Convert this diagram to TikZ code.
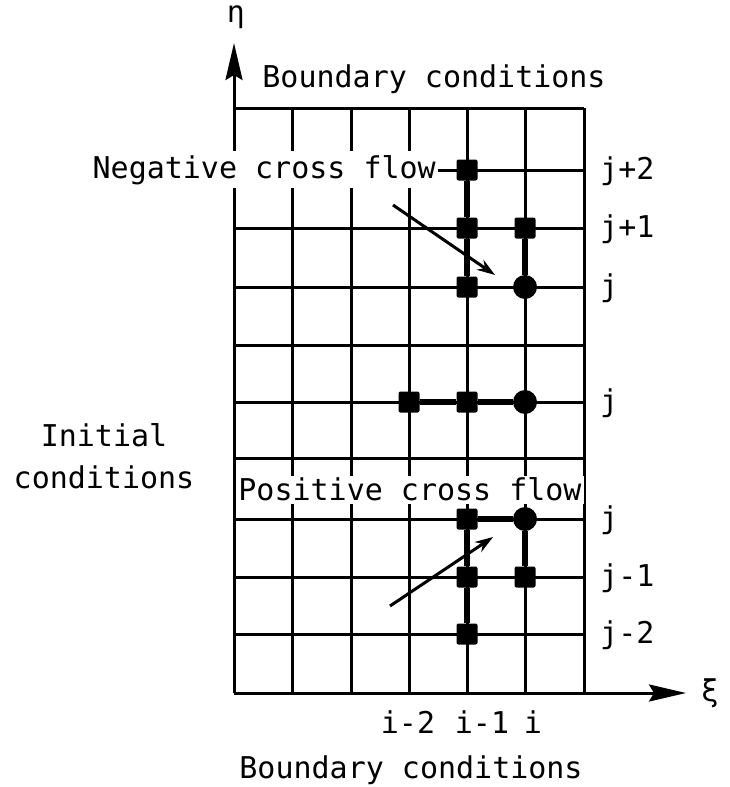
\documentclass[tikz,border=0pt]{standalone}
\usepackage{fontspec}
\newfontfamily\plotfont{DejaVu Sans Mono}
\usepackage{tikz}
\usetikzlibrary{arrows.meta,positioning}
\tikzset{
  gridln/.style={line width=3pt},
  link/.style={line width=6pt},
  sqpt/.style={rectangle, fill=black, minimum size=21pt, inner sep=0pt, rounded corners=2pt},
  rdpt/.style={circle, fill=black, minimum size=24pt, inner sep=0pt},
  lbl/.style={font={\plotfont\fontsize{30pt}{42pt}\selectfont}, inner sep=0pt},
  tag/.style={lbl, fill=white, inner xsep=2pt, inner ysep=4pt},
  axis/.style={line width=3pt, -{Stealth[length=37pt, width=17pt, inset=5pt]}},
  flow/.style={line width=3pt, -{Stealth[length=18pt, width=12pt]}}
}

\begin{document}
\begin{tikzpicture}[x=1pt, y=-1pt]
  \useasboundingbox (0,0) rectangle (729,787);
  \foreach \y in {108,170,228,287,345,402,458,519,577,634}
    \draw[gridln] (234,\y) -- (584,\y);
  \foreach \x in {292,351,409,467,525,584}
    \draw[gridln] (\x,108) -- (\x,693);
  \coordinate (o) at (234,693);
  \coordinate (etatip) at (234,43);
  \coordinate (xitip) at (686,693);
  \draw[axis] (o) -- (etatip);
  \draw[axis] (o) -- (xitip);

  \node[tag, anchor=base east] (neg) at (438,178) {Negative cross flow};
  \node[tag, anchor=base, text height=22pt, text depth=2pt, inner ysep=2pt] (pos) at (410,500) {Positive cross flow};

  \node[sqpt] (nsq2) at (467,170) {};
  \node[sqpt] (nsq1) at (467,228) {};
  \node[sqpt] (nsq0) at (467,287) {};
  \node[sqpt] (nsqr1) at (525,228) {};
  \node[rdpt] (ncir) at (525,287) {};
  \draw[link] (nsq2) -- (nsq1) -- (nsq0);
  \draw[link] (nsqr1) -- (ncir);

  \node[sqpt] (msq2) at (409,402) {};
  \node[sqpt] (msq1) at (467,402) {};
  \node[rdpt] (mcir) at (525,402) {};
  \draw[link] (msq2) -- (msq1) -- (mcir);

  \node[sqpt] (psq0) at (467,519) {};
  \node[rdpt] (pcir) at (525,519) {};
  \node[sqpt] (psq1) at (467,577) {};
  \node[sqpt] (psqr1) at (525,577) {};
  \node[sqpt] (psq2) at (467,634) {};
  \draw[link] (psq0) -- (pcir);
  \draw[link] (psq0) -- (psq1) -- (psq2);
  \draw[link] (pcir) -- (psqr1);

  \coordinate (negfrom) at (393,205);
  \coordinate (negto) at (495,275);
  \coordinate (posfrom) at (390,606);
  \coordinate (posto) at (493,537);
  \draw[flow] (negfrom) -- (negto);
  \draw[flow] (posfrom) -- (posto);

  \node[lbl] (eta) at (236,17) {η};
  \node[lbl] (xi) at (710,693) {ξ};
  \node[lbl, anchor=base] (bctop) at (434,87) {Boundary conditions};
  \node[lbl, anchor=base] (bcbot) at (411,778) {Boundary conditions};
  \node[lbl, align=center] (init) at (104,456) {Initial\\conditions};
  \foreach \y/\t in {170/j+2, 228/j+1, 287/j, 402/j, 519/j, 577/j-1, 634/j-2}
    \node[lbl, anchor=base west] (row\y) at (600,\y+9) {\t};
  \node[lbl, anchor=base] (i2) at (408,733) {i-2};
  \node[lbl, anchor=base] (i1) at (482,733) {i-1};
  \node[lbl, anchor=base] (i0) at (533,733) {i};
\end{tikzpicture}
\end{document}
